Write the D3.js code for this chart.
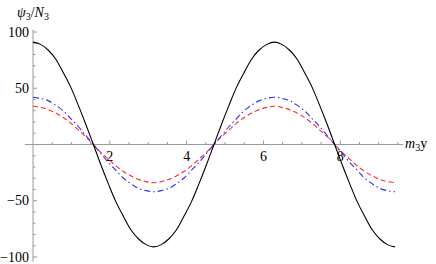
<!DOCTYPE html>
<html><head><meta charset="utf-8">
<script src="https://cdn.jsdelivr.net/npm/d3@7"></script>
<style>body{margin:0;background:#fff}svg{display:block}svg text{font-family:"Liberation Serif","Times New Roman",serif;}</style>
</head><body><div id="c"></div>
<script>
// sample positions along m3 y
const xs = [0,0.196,0.393,0.589,0.785,0.982,1.178,1.374,1.571,1.767,1.963,2.160,2.356,2.553,2.749,2.945,3.142,3.338,3.534,3.731,3.927,4.123,4.320,4.516,4.712,4.909,5.105,5.301,5.498,5.694,5.890,6.087,6.283,6.480,6.676,6.872,7.069,7.265,7.461,7.658,7.854,8.050,8.247,8.443,8.639,8.836,9.032,9.228,9.425];
const blackVals = [91,89,84,76,64,51,35,18,0,-18,-35,-51,-64,-76,-84,-89,-91,-89,-84,-76,-64,-51,-35,-18,0,18,35,51,64,76,84,89,91,89,84,76,64,51,35,18,0,-18,-35,-51,-64,-76,-84,-89,-91];
const blueVals  = [42,41,39,35,30,23,16,8,0,-8,-16,-23,-30,-35,-39,-41,-42,-41,-39,-35,-30,-23,-16,-8,0,8,16,23,30,35,39,41,42,41,39,35,30,23,16,8,0,-8,-16,-23,-30,-35,-39,-41,-42];
const redVals   = [34,33,31,28,24,19,13,7,0,-7,-13,-19,-24,-28,-31,-33,-34,-33,-31,-28,-24,-19,-13,-7,0,7,13,19,24,28,31,33,34,33,31,28,24,19,13,7,0,-7,-13,-19,-24,-28,-31,-33,-34];
const xTicks = [2,4,6,8];
const yTicks = [-100,-50,50,100];

const W=436,H=264;
const svg=d3.select("#c").append("svg").attr("width",W).attr("height",H);
const x=d3.scaleLinear().domain([0,9.425]).range([33,395]);
const y=d3.scaleLinear().domain([-100,100]).range([257,32]);
const axisCol="#999";

// x axis
const gx=svg.append("g");
gx.append("line").attr("x1",25).attr("x2",403).attr("y1",y(0)).attr("y2",y(0)).attr("stroke",axisCol).attr("stroke-width",1);
const xMinor=d3.range(0.5,9.6,0.5).filter(v=>x(v)<=403);
gx.selectAll(".xm").data(xMinor).enter().append("line")
 .attr("x1",d=>x(d)).attr("x2",d=>x(d)).attr("y1",y(0)).attr("y2",d=>y(0)-(xTicks.includes(d)?4:2.5))
 .attr("stroke",axisCol);
gx.selectAll(".xl").data(xTicks).enter().append("text")
 .attr("x",d=>x(d)).attr("y",y(0)+16).attr("text-anchor","middle").attr("font-size",14).text(d=>d);

// y axis
const gy=svg.append("g");
gy.append("line").attr("x1",x(0)).attr("x2",x(0)).attr("y1",y(102)).attr("y2",y(-104)).attr("stroke",axisCol);
const yMinor=d3.range(-100,101,10).filter(v=>v!==0);
gy.selectAll(".ym").data(yMinor).enter().append("line")
 .attr("x1",x(0)).attr("x2",d=>x(0)+(d%50===0?4:2.5)).attr("y1",d=>y(d)).attr("y2",d=>y(d))
 .attr("stroke",axisCol);
gy.selectAll(".yl").data(yTicks).enter().append("text")
 .attr("x",x(0)-4).attr("y",d=>y(d)+4.5).attr("text-anchor","end").attr("font-size",14)
 .text(d=>d<0?"\u2212"+Math.abs(d):d);

// axis labels
const t1=svg.append("text").attr("x",17).attr("y",17).attr("font-size",14);
t1.append("tspan").attr("font-style","italic").text("\u03c8");
t1.append("tspan").attr("font-size",10).attr("dy",3).text("3");
t1.append("tspan").attr("dy",-3).text("/");
t1.append("tspan").attr("font-style","italic").text("N");
t1.append("tspan").attr("font-size",10).attr("dy",3).text("3");
const t2=svg.append("text").attr("x",405).attr("y",y(0)+3).attr("font-size",14);
t2.append("tspan").attr("font-style","italic").text("m");
t2.append("tspan").attr("font-size",10).attr("dy",3).text("3");
t2.append("tspan").attr("dy",-3).text("y");

// curves
const series=[
 {vals:redVals,color:"#ff2a2a",dash:"5,3"},
 {vals:blueVals,color:"#2a2aff",dash:"6,3,1.5,3"},
 {vals:blackVals,color:"#000",dash:null}
];
const line=d3.line().x((d,i)=>x(xs[i])).y(d=>y(d)).curve(d3.curveCatmullRom.alpha(0.5));
series.forEach(s=>{
 svg.append("path").attr("d",line(s.vals)).attr("fill","none").attr("stroke",s.color)
  .attr("stroke-width",1.1).attr("stroke-dasharray",s.dash);
});
</script></body></html>
